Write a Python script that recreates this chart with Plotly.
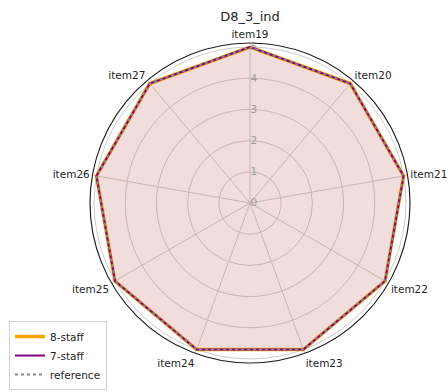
import plotly.graph_objects as go

# Radar chart data
items = ["item19", "item20", "item21", "item22", "item23",
         "item24", "item25", "item26", "item27"]
staff8 = [5, 5, 5, 5, 5, 5, 5, 5, 5]
staff7 = [5, 5, 5, 5, 5, 5, 5, 5, 5]
reference = [5, 5, 5, 5, 5, 5, 5, 5, 5]
radial_ticks = [0, 1, 2, 3, 4, 5]

FONT = "DejaVu Sans"


def closed(vals):
    return list(vals) + [vals[0]]


theta = closed(items)

fig = go.Figure()

# shaded area under the 8-staff polygon
fig.add_trace(go.Scatterpolar(
    r=closed(staff8), theta=theta, mode="lines", fill="toself",
    fillcolor="rgba(190,100,95,0.22)", line=dict(width=0),
    showlegend=False, hoverinfo="skip"))

fig.add_trace(go.Scatterpolar(
    r=closed(staff8), theta=theta, mode="lines", name="8-staff",
    line=dict(color="#ffa500", width=3.5)))
fig.add_trace(go.Scatterpolar(
    r=closed(staff7), theta=theta, mode="lines", name="7-staff",
    line=dict(color="#800080", width=2)))
fig.add_trace(go.Scatterpolar(
    r=closed(reference), theta=theta, mode="lines", name="reference",
    line=dict(color="#888888", width=2, dash="dot")))

W, H = 448, 392
cx, cy, R = 250, 203, 160

fig.update_layout(
    width=W, height=H,
    margin=dict(l=0, r=0, t=0, b=0),
    paper_bgcolor="white",
    font=dict(family=FONT, size=10, color="#262626"),
    title=dict(text="D8_3_ind", x=cx / W, xanchor="center",
               y=1 - 16 / H, yanchor="middle",
               font=dict(family=FONT, size=13, color="#262626")),
    polar=dict(
        domain=dict(x=[(cx - R) / W, (cx + R) / W],
                    y=[(H - cy - R) / H, (H - cy + R) / H]),
        bgcolor="white",
        angularaxis=dict(
            direction="clockwise", rotation=90,
            linecolor="#222222", linewidth=1.2,
            gridcolor="#cccccc", gridwidth=1,
            ticks="", tickfont=dict(size=10.5, color="#262626"),
        ),
        radialaxis=dict(
            range=[0, 5.13], angle=90, tickangle=90,
            tickvals=radial_ticks, ticktext=[str(t) for t in radial_ticks],
            showline=False, ticks="",
            gridcolor="#cccccc", gridwidth=1,
            tickfont=dict(size=10.5, color="#9a9a9a"),
        ),
    ),
    legend=dict(
        x=0.02, y=0.005, xanchor="left", yanchor="bottom",
        bgcolor="white", bordercolor="#d0d0d0", borderwidth=1,
        font=dict(family=FONT, size=10.5, color="#262626"),
        tracegroupgap=0, itemwidth=30,
    ),
)

fig.write_html("out.html")
